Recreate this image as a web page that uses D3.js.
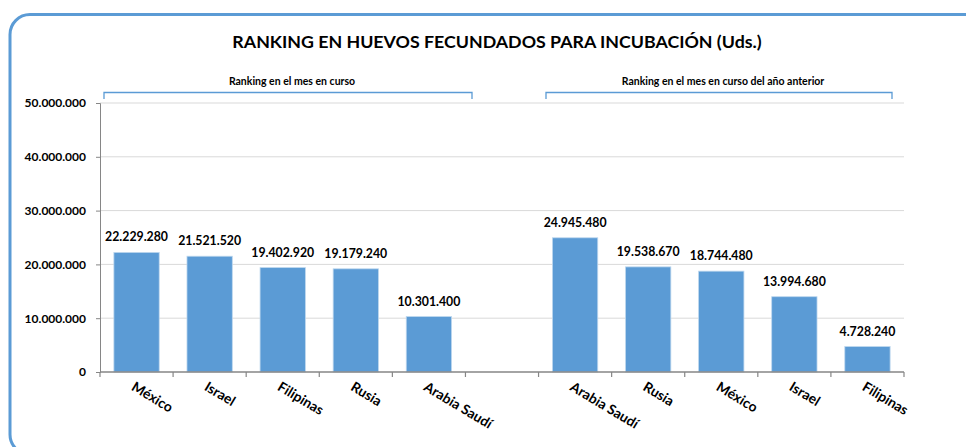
<!DOCTYPE html>
<html>
<head>
<meta charset="utf-8">
<script src="https://cdn.jsdelivr.net/npm/d3@7"></script>
<style>
  html, body { margin: 0; padding: 0; background: #fff; }
  svg text { font-family: "Lato", "Open Sans", sans-serif; font-weight: bold; fill: #000; }
</style>
</head>
<body>
<div id="chart"></div>
<script>
// chart data
const title = 'RANKING EN HUEVOS FECUNDADOS PARA INCUBACIÓN (Uds.)';
const groupLabels = ['Ranking en el mes en curso', 'Ranking en el mes en curso del año anterior'];
const currentCountries = ['México', 'Israel', 'Filipinas', 'Rusia', 'Arabia Saudí'];
const currentValues = [22229280, 21521520, 19402920, 19179240, 10301400];
const previousCountries = ['Arabia Saudí', 'Rusia', 'México', 'Israel', 'Filipinas'];
const previousValues = [24945480, 19538670, 18744480, 13994680, 4728240];
const yTicks = [0, 10000000, 20000000, 30000000, 40000000, 50000000];

const width = 966, height = 447;
const plotLeft = 100, plotRight = 904, plotTop = 103, plotBottom = 372;

const locale = d3.formatLocale({ decimal: ',', thousands: '.', grouping: [3], currency: ['', ' €'] });
const fmt = locale.format(',d');

// one slot per bar plus an empty slot between both groups
const rows = [];
currentCountries.forEach((c, i) => rows.push({ key: 'c' + i, name: c, value: currentValues[i], group: 0 }));
rows.push({ key: 'gap', name: '', value: null, group: -1 });
previousCountries.forEach((c, i) => rows.push({ key: 'p' + i, name: c, value: previousValues[i], group: 1 }));

const svg = d3.select('#chart')
    .append('svg')
    .attr('width', width)
    .attr('height', height);

// rounded frame
svg.append('rect')
    .attr('x', 10)
    .attr('y', 14.5)
    .attr('width', 980)
    .attr('height', 440)
    .attr('rx', 20)
    .attr('fill', 'none')
    .attr('stroke', '#5B9BD5')
    .attr('stroke-width', 3);

svg.append('text')
    .attr('x', 497)
    .attr('y', 48)
    .attr('text-anchor', 'middle')
    .attr('font-size', 17.8)
    .text(title);

const x = d3.scaleBand()
    .domain(rows.map(d => d.key))
    .range([plotLeft, plotRight])
    .paddingInner(0.38)
    .paddingOuter(0.19);

const y = d3.scaleLinear()
    .domain([0, 50000000])
    .range([plotBottom, plotTop]);

// gridlines
svg.append('g')
    .selectAll('line')
    .data(yTicks.slice(1))
    .enter()
    .append('line')
    .attr('x1', plotLeft)
    .attr('x2', plotRight)
    .attr('y1', d => y(d))
    .attr('y2', d => y(d))
    .attr('stroke', '#D9D9D9')
    .attr('stroke-width', 1);

// y axis
const yAxis = svg.append('g')
    .attr('transform', `translate(${plotLeft},0)`)
    .call(d3.axisLeft(y).tickValues(yTicks).tickSize(4).tickPadding(10).tickFormat(fmt));
yAxis.select('.domain').attr('stroke', '#868686');
yAxis.selectAll('.tick line').attr('stroke', '#868686');
yAxis.selectAll('.tick text')
    .attr('font-size', 12)
    .attr('font-family', '"Lato", sans-serif')
    .attr('font-weight', 'bold')
    .attr('fill', '#000');

// bars
const step = x.step();
svg.append('g')
    .selectAll('rect')
    .data(rows.filter(d => d.value !== null))
    .enter()
    .append('rect')
    .attr('x', d => x(d.key))
    .attr('y', d => y(d.value))
    .attr('width', x.bandwidth())
    .attr('height', d => plotBottom - y(d.value))
    .attr('fill', '#5B9BD5')
    .attr('stroke', '#BDD7EE')
    .attr('stroke-width', 0.8);

// value labels
svg.append('g')
    .selectAll('text')
    .data(rows.filter(d => d.value !== null))
    .enter()
    .append('text')
    .attr('x', d => x(d.key) + x.bandwidth() / 2)
    .attr('y', d => y(d.value) - 11)
    .attr('text-anchor', 'middle')
    .attr('font-size', 12.3)
    .text(d => fmt(d.value));

// x axis with ticks at slot boundaries
const xAxis = svg.append('g');
xAxis.append('line')
    .attr('x1', plotLeft)
    .attr('x2', plotRight)
    .attr('y1', plotBottom)
    .attr('y2', plotBottom)
    .attr('stroke', '#868686')
    .attr('stroke-width', 1.5);
xAxis.selectAll('line.tick')
    .data(d3.range(rows.length + 1))
    .enter()
    .append('line')
    .attr('class', 'tick')
    .attr('x1', i => plotLeft + i * step)
    .attr('x2', i => plotLeft + i * step)
    .attr('y1', plotBottom)
    .attr('y2', plotBottom + 5)
    .attr('stroke', '#868686')
    .attr('stroke-width', 1.2);

// rotated category labels
svg.append('g')
    .selectAll('text')
    .data(rows.filter(d => d.name))
    .enter()
    .append('text')
    .attr('transform', d => `translate(${x(d.key) + x.bandwidth() / 2 - 1},${plotBottom + 9}) rotate(31)`)
    .attr('dy', '0.72em')
    .attr('font-size', 13.8)
    .text(d => d.name);

// group brackets
const groups = [
    { label: groupLabels[0], x0: 104, x1: 472 },
    { label: groupLabels[1], x0: 546, x1: 892 }
];
groups.forEach(g => {
    svg.append('path')
        .attr('d', `M${g.x0},99V92.5H${g.x1}V99`)
        .attr('fill', 'none')
        .attr('stroke', '#5B9BD5')
        .attr('stroke-width', 1.3);
    svg.append('text')
        .attr('x', (g.x0 + g.x1) / 2 + 4)
        .attr('y', 85)
        .attr('text-anchor', 'middle')
        .attr('font-size', 10.5)
        .text(g.label);
});
</script>
</body>
</html>
